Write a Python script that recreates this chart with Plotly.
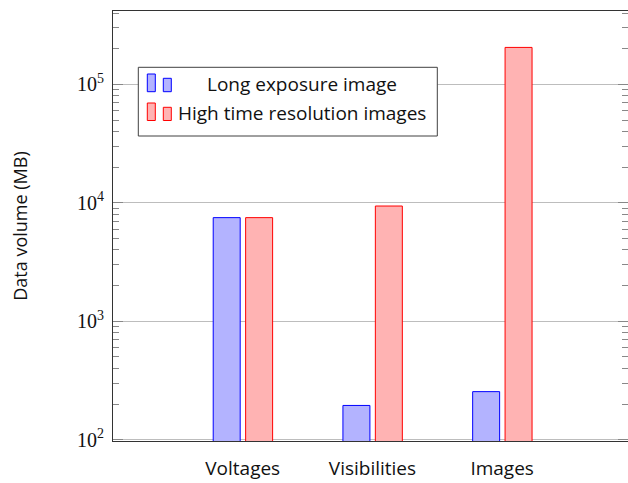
import plotly.graph_objects as go

categories = ["Voltages", "Visibilities", "Images"]
series_names = ["Long exposure image", "High time resolution images"]
long_exposure = [7500, 195, 255]
high_time_res = [7500, 9400, 205000]
ytick_vals = [100, 1000, 10000, 100000]
ytick_text = ["10<sup>2</sup>", "10<sup>3</sup>", "10<sup>4</sup>", "10<sup>5</sup>"]

W, H = 628, 483
L, R, T, B = 113, 0, 11, 42
PW, PH = W - L - R, H - T - B

def px(x):
    return (x - L) / PW

def py(y):
    return 1 - (y - T) / PH

fills = ["#b3b3ff", "#ffb3b3"]
edges = ["#0000ff", "#ff0000"]
offsets = [-0.2275, 0.0224]
bw = 0.208

fig = go.Figure()
for vals, name, fc, ec, off in zip([long_exposure, high_time_res], series_names, fills, edges, offsets):
    fig.add_trace(go.Bar(
        x=categories, y=vals, name=name, width=bw, offset=off,
        marker=dict(color=fc, line=dict(color=ec, width=1)),
        showlegend=False,
    ))

sans = "Open Sans"
serif = "Liberation Serif"

# custom legend (pgfplots style)
shapes = [dict(type="rect", xref="paper", yref="paper",
               x0=px(138.3), x1=px(437.3), y0=py(136), y1=py(67.3),
               line=dict(color="#404040", width=1), fillcolor="white", layer="above")]
annotations = []
rows = [(74, 78.3, 91.7, 84), (103, 107.3, 120.5, 113.5)]
for i, (ya, yb, ybot, yc) in enumerate(rows):
    shapes.append(dict(type="rect", xref="paper", yref="paper",
                       x0=px(147.3), x1=px(155.3), y0=py(ybot), y1=py(ya),
                       line=dict(color=edges[i], width=1), fillcolor=fills[i], layer="above"))
    shapes.append(dict(type="rect", xref="paper", yref="paper",
                       x0=px(163.3), x1=px(171.3), y0=py(ybot), y1=py(yb),
                       line=dict(color=edges[i], width=1), fillcolor=fills[i], layer="above"))
    annotations.append(dict(xref="paper", yref="paper", x=px(301.6), y=py(yc),
                            text=series_names[i], showarrow=False,
                            xanchor="center", yanchor="middle",
                            font=dict(family=sans, size=19, color="#111")))

fig.update_layout(
    width=W, height=H,
    margin=dict(l=L, r=R, t=T, b=B, autoexpand=False),
    paper_bgcolor="white", plot_bgcolor="white",
    barmode="overlay",
    shapes=shapes, annotations=annotations,
    xaxis=dict(
        type="category", range=[-1.0, 2.97], automargin=False,
        showline=True, linecolor="#333", linewidth=1, mirror=True,
        ticks="", showgrid=False,
        tickfont=dict(family=sans, size=19, color="#111"),
        ticklabelstandoff=10,
    ),
    yaxis=dict(
        type="log", range=[1.99, 5.619], automargin=False,
        tickvals=ytick_vals, ticktext=ytick_text,
        showline=True, linecolor="#333", linewidth=1, mirror="ticks",
        ticks="inside", ticklen=10, tickcolor="#888", tickwidth=1,
        showgrid=True, gridcolor="#bdbdbd", gridwidth=1,
        minor=dict(ticks="inside", ticklen=6, tickcolor="#888", dtick="D1", showgrid=False),
        tickfont=dict(family=serif, size=20, color="#111"),
        ticklabelstandoff=4,
        title=dict(text="Data volume (MB)", font=dict(family=sans, size=18, color="#111"), standoff=44),
        zeroline=False,
    ),
)

fig.write_html("out.html", config={"displayModeBar": False},
               post_script="document.body.style.margin='0';document.body.style.overflow='hidden';")
